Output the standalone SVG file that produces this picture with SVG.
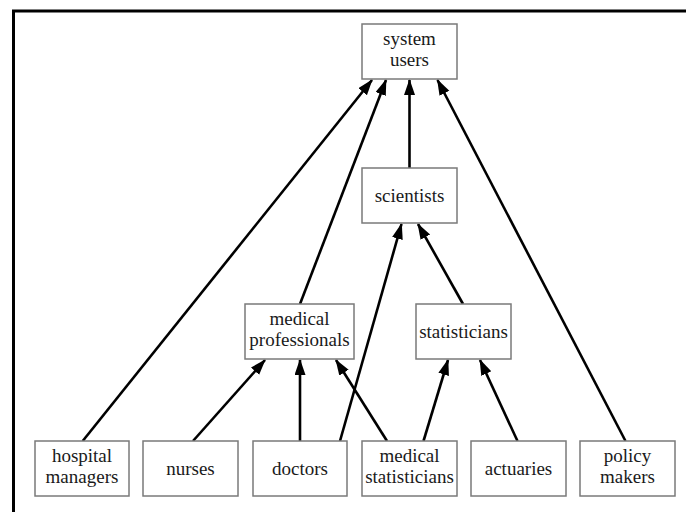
<svg xmlns="http://www.w3.org/2000/svg" width="686" height="512" viewBox="0 0 686 512">
  <defs>
    <marker id="arrow" markerUnits="userSpaceOnUse" markerWidth="18" markerHeight="12" refX="15" refY="5.5" orient="auto">
      <path d="M0,0 L16,5.5 L0,11 z" fill="#000"/>
    </marker>
    <style>
      .frame { fill: none; stroke: #000; stroke-width: 3; }
      .node rect { fill: #fff; stroke: #7a7a7a; stroke-width: 1.5; }
      .node text { font-family: 'Liberation Serif', 'DejaVu Serif', serif; font-size: 19px; fill: #1a1a1a; text-anchor: middle; }
      .edges line { stroke: #000; stroke-width: 2.6; marker-end: url(#arrow); }
    </style>
  </defs>

  <rect width="686" height="512" fill="#fff"/>
  <path class="frame" d="M13.5,512 V11 H686"/>

  <g class="edges">
    <line x1="82.7" y1="441" x2="372" y2="80"/>
    <line x1="300" y1="304" x2="386" y2="80"/>
    <line x1="409.5" y1="168" x2="409.5" y2="80"/>
    <line x1="625.5" y1="441" x2="437.5" y2="80"/>
    <line x1="463" y1="304" x2="418" y2="224"/>
    <line x1="340" y1="441" x2="401.5" y2="224"/>
    <line x1="193" y1="441" x2="265" y2="360"/>
    <line x1="300" y1="441" x2="300" y2="360"/>
    <line x1="387" y1="441" x2="336" y2="360"/>
    <line x1="423.5" y1="441" x2="448" y2="360"/>
    <line x1="517.5" y1="441" x2="480" y2="360"/>
  </g>

  <g id="system-users" class="node">
    <rect x="362" y="24" width="95" height="55"/>
    <text x="409.5" y="44.5" font-family="Liberation Serif, serif">system</text>
    <text x="409.5" y="65.5" font-family="Liberation Serif, serif">users</text>
  </g>
  <g id="scientists" class="node">
    <rect x="362" y="168" width="95" height="55"/>
    <text x="409.5" y="201.5">scientists</text>
  </g>
  <g id="medical-professionals" class="node">
    <rect x="245" y="304" width="109" height="55"/>
    <text x="299.5" y="324.5">medical</text>
    <text x="299.5" y="345.5">professionals</text>
  </g>
  <g id="statisticians" class="node">
    <rect x="416" y="304" width="95" height="55"/>
    <text x="463.5" y="337.5">statisticians</text>
  </g>
  <g id="hospital-managers" class="node">
    <rect x="35" y="441" width="94" height="55"/>
    <text x="82" y="461.5">hospital</text>
    <text x="82" y="482.5">managers</text>
  </g>
  <g id="nurses" class="node">
    <rect x="143" y="441" width="95" height="55"/>
    <text x="190.5" y="474.5">nurses</text>
  </g>
  <g id="doctors" class="node">
    <rect x="253" y="441" width="94" height="55"/>
    <text x="300" y="474.5">doctors</text>
  </g>
  <g id="medical-statisticians" class="node">
    <rect x="362" y="441" width="95" height="55"/>
    <text x="409.5" y="461.5">medical</text>
    <text x="409.5" y="482.5">statisticians</text>
  </g>
  <g id="actuaries" class="node">
    <rect x="471" y="441" width="95" height="55"/>
    <text x="518.5" y="474.5">actuaries</text>
  </g>
  <g id="policy-makers" class="node">
    <rect x="580" y="441" width="95" height="55"/>
    <text x="627.5" y="461.5">policy</text>
    <text x="627.5" y="482.5">makers</text>
  </g>
</svg>
